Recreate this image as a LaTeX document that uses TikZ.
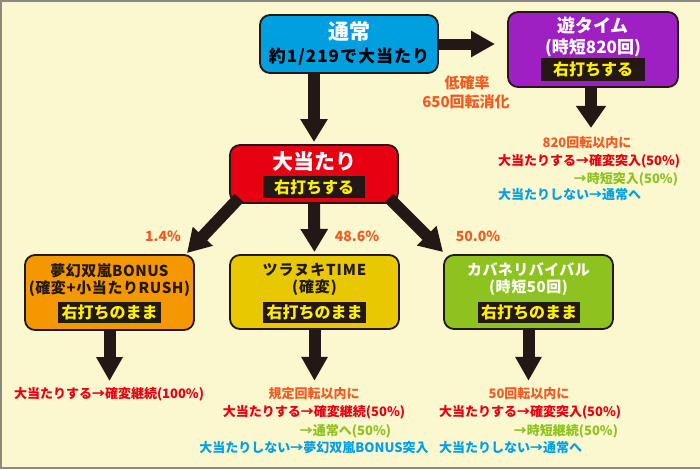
\documentclass[tikz,border=0pt]{standalone}
\usepackage{fontspec}
\setmainfont{Noto Sans CJK JP}
\usetikzlibrary{arrows.meta}
\definecolor{bg}{HTML}{FBF7CE}
\definecolor{frame}{HTML}{8C8A80}
\definecolor{ink}{HTML}{231815}
\definecolor{cblue}{HTML}{00A0E0}
\definecolor{cpurple}{HTML}{9E20C2}
\definecolor{cred}{HTML}{E60012}
\definecolor{corange}{HTML}{F39800}
\definecolor{cyellow}{HTML}{E8C800}
\definecolor{cgreen}{HTML}{8DC21F}
\definecolor{tor}{HTML}{EF5B25}
\definecolor{tred}{HTML}{E60012}
\definecolor{tgreen}{HTML}{8DC21F}
\definecolor{tblue}{HTML}{00A0E9}
\definecolor{byel}{HTML}{FFF000}
\newcommand\fsz[1]{\fontsize{#1}{#1}\selectfont}
\newcommand\lsp[1]{\addfontfeature{LetterSpace=#1}}
\begin{document}
\begin{tikzpicture}[x=1pt,y=-1pt,
  box/.style={draw=ink, line width=1.8pt, rounded corners=10pt, inner sep=0pt, outer sep=0pt},
  txt/.style={inner sep=0pt, outer sep=0pt, font=\bfseries},
  banner/.style={fill=ink, inner sep=0pt, outer sep=0pt, text=byel, font=\bfseries\fsz{16}},
  bigarrow/.style={draw=ink, line width=12pt, -{Triangle[width=26pt,length=23pt]}},
]
\useasboundingbox (0,0) rectangle (700,469);
\fill[bg] (0,0) rectangle (700,469);
\draw[frame, line width=2.5pt] (0,1.2) -- (700,1.2);
\draw[frame, line width=2pt] (1,0) -- (1,469);
\draw[frame, line width=2pt] (0,468) -- (700,468);

% boxes
\node[box, fill=cblue, minimum width=178pt, minimum height=58pt] (tsujo) at (349,44) {};
\node[txt, text=white, font=\bfseries\fsz{21}] (tsujoA) at (349,32) {通常};
\node[txt, text=black, font=\bfseries\fsz{17}\lsp{6}] (tsujoB) at (349,57) {約1/219で大当たり};

\node[box, fill=cpurple, minimum width=170pt, minimum height=75pt] (yu) at (593,49.5) {};
\node[txt, text=white, font=\bfseries\fsz{18}] (yuA) at (593,26) {遊タイム};
\node[txt, text=white, font=\bfseries\fsz{17}] (yuB) at (593,48) {(時短820回)};
\node[banner, minimum width=104pt, minimum height=23pt] (yuC) at (593,69.5) {右打ちする};

\node[box, fill=cred, minimum width=168pt, minimum height=58pt] (atari) at (314,174) {};
\node[txt, text=white, font=\bfseries\fsz{21}] (atariA) at (314,162) {大当たり};
\node[banner, minimum width=102pt, minimum height=22pt] (atariB) at (314,187) {右打ちする};

\node[box, fill=corange, minimum width=169pt, minimum height=75pt] (mugen) at (109.5,292.5) {};
\node[txt, text=ink, font=\bfseries\fsz{15}\lsp{3}] (mugenA) at (109.5,271) {夢幻双嵐BONUS};
\node[txt, text=ink, font=\bfseries\fsz{15}\lsp{4}] (mugenB) at (109.5,289) {(確変+小当たりRUSH)};
\node[banner, minimum width=103pt, minimum height=21pt] (mugenC) at (109.5,312.5) {右打ちのまま};

\node[box, fill=cyellow, minimum width=169pt, minimum height=74pt] (tsura) at (314.5,292) {};
\node[txt, text=ink, font=\bfseries\fsz{15}\lsp{6}] (tsuraA) at (314.5,270) {ツラヌキTIME};
\node[txt, text=ink, font=\bfseries\fsz{15}\lsp{6}] (tsuraB) at (314.5,288) {(確変)};
\node[banner, minimum width=103pt, minimum height=21pt] (tsuraC) at (314.5,312.5) {右打ちのまま};

\node[box, fill=cgreen, minimum width=169pt, minimum height=74pt] (kaba) at (528.5,292) {};
\node[txt, text=white, font=\bfseries\fsz{15}\lsp{3}] (kabaA) at (528.5,270) {カバネリバイバル};
\node[txt, text=white, font=\bfseries\fsz{15}\lsp{4}] (kabaB) at (528.5,288) {(時短50回)};
\node[banner, minimum width=102pt, minimum height=21pt] (kabaC) at (529,312.5) {右打ちのまま};

% labels
\node[txt, text=tor, font=\bfseries\fsz{15}] (lowA) at (467,83) {低確率};
\node[txt, text=tor, font=\bfseries\fsz{15}] (lowB) at (466,102) {650回転消化};
\node[txt, text=tor, font=\bfseries\fsz{14}] (p1) at (163,236) {1.4\%};
\node[txt, text=tor, font=\bfseries\fsz{14}] (p2) at (357,236) {48.6\%};
\node[txt, text=tor, font=\bfseries\fsz{14}] (p3) at (478,236) {50.0\%};

% text blocks
\begin{scope}[every node/.append style={txt, font=\bfseries\fsz{13}}]
\node[text=tor] (y1) at (587,143) {820回転以内に};
\node[text=tred, anchor=west] (y2) at (498,161) {大当たりする→確変突入(50\%)};
\node[text=tgreen, anchor=east] (y3) at (678,179) {→時短突入(50\%)};
\node[text=tblue, anchor=west] (y4) at (498,195) {大当たりしない→通常へ};

\node[text=tred] (m1) at (109,394) {大当たりする→確変継続(100\%)};

\node[text=tor] (t1) at (314,394) {規定回転以内に};
\node[text=tred] (t2) at (314,412) {大当たりする→確変継続(50\%)};
\node[text=tgreen] (t3) at (345.5,431) {→通常へ(50\%)};
\node[text=tblue] (t4) at (314,448) {大当たりしない→夢幻双嵐BONUS突入};

\node[text=tor] (k1) at (529,394) {50回転以内に};
\node[text=tred, anchor=west] (k2) at (439,412) {大当たりする→確変突入(50\%)};
\node[text=tgreen, anchor=east] (k3) at (618,431) {→時短継続(50\%)};
\node[text=tblue, anchor=west] (k4) at (439,448) {大当たりしない→通常へ};
\end{scope}

% arrows
\draw[bigarrow, line width=11pt, -{Triangle[width=25pt,length=24pt]}, shorten >=13pt] (tsujo.east) -- (tsujo.east -| yu.west);
\draw[bigarrow, shorten >=3pt] (tsujo.south -| atari.north) -- (atari.north);
\draw[bigarrow, -{Triangle[width=29pt,length=22pt]}, shorten >=9pt] ([xshift=-2pt]yu.south) -- ([xshift=-2pt]yu.south |- y1.north);
\draw[bigarrow] ([xshift=9pt,yshift=5pt]atari.south west) -- ([xshift=-7pt,yshift=2pt]mugen.north east);
\draw[bigarrow, shorten >=3pt] (atari.south) -- (tsura.north);
\draw[bigarrow] ([xshift=-9pt,yshift=5pt]atari.south east) -- ([xshift=-1pt,yshift=3pt]kaba.north west);
\draw[bigarrow, -{Triangle[width=25pt,length=24pt]}, shorten >=6pt] (mugen.south) -- (mugen.south |- m1.north);
\draw[bigarrow, -{Triangle[width=25pt,length=24pt]}, shorten >=7pt] (tsura.south) -- (tsura.south |- t1.north);
\draw[bigarrow, -{Triangle[width=25pt,length=24pt]}, shorten >=7pt] (kaba.south) -- (kaba.south |- k1.north);
\end{tikzpicture}
\end{document}
